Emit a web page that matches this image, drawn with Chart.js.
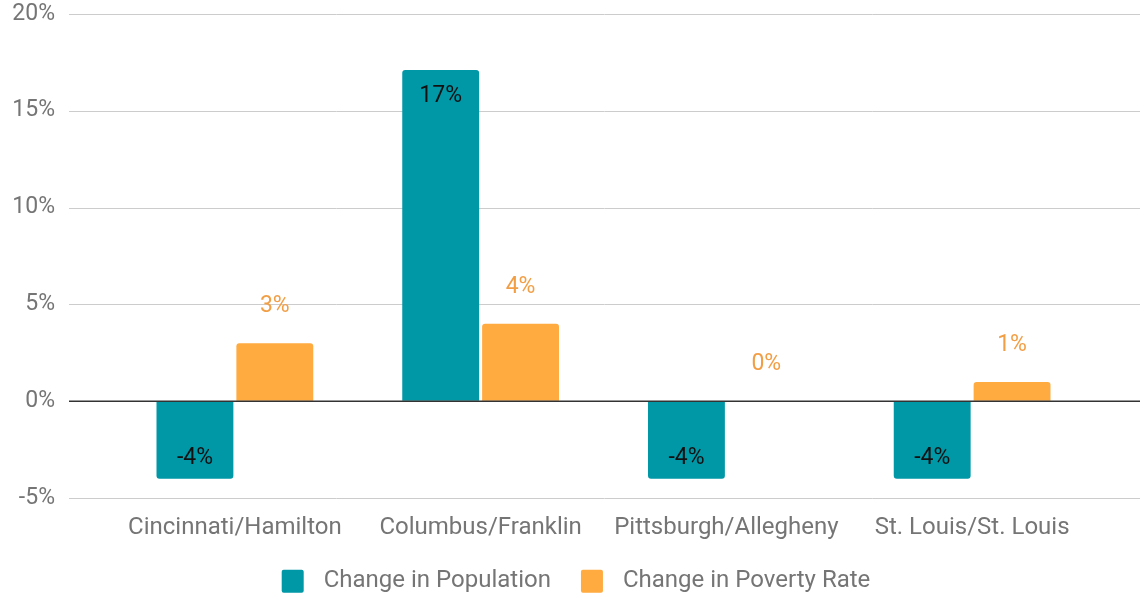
<!DOCTYPE html>
<html>
<head>
<meta charset="utf-8">
<script src="https://cdn.jsdelivr.net/npm/chart.js@4.4.1/dist/chart.umd.min.js"></script>
<style>
  html, body { margin: 0; padding: 0; background: #ffffff; }
  #wrap { width: 1145px; height: 597px; position: relative; }
</style>
</head>
<body>
<div id="wrap"><canvas id="c"></canvas></div>
<script>
const categories = ["Cincinnati/Hamilton", "Columbus/Franklin", "Pittsburgh/Allegheny", "St. Louis/St. Louis"];
const populationChange = [-4, 17.1, -4, -4];
const povertyChange = [3, 4, 0, 1];
const seriesNames = ["Change in Population", "Change in Poverty Rate"];
const yTicks = [-5, 0, 5, 10, 15, 20];

const TEAL = "#0097A7";
const ORANGE = "#FFAB40";
const GRAY = "#757575";
const FONT = "Roboto, 'Noto Sans', sans-serif";

const gridPlugin = {
  id: "gridExt",
  beforeDatasetsDraw(chart) {
    const ctx = chart.ctx, y = chart.scales.y;
    ctx.save();
    yTicks.forEach(v => {
      const py = Math.round(y.getPixelForValue(v)) + 0.5;
      ctx.beginPath();
      ctx.moveTo(69, py);
      ctx.lineTo(1140, py);
      ctx.lineWidth = 1;
      ctx.strokeStyle = "#cccccc";
      ctx.stroke();
    });
    ctx.restore();
  },
  afterDatasetsDraw(chart) {
    const ctx = chart.ctx, y = chart.scales.y;
    const py = y.getPixelForValue(0);
    ctx.save();
    ctx.beginPath();
    ctx.moveTo(69, py);
    ctx.lineTo(1140, py);
    ctx.lineWidth = 1.6;
    ctx.strokeStyle = "#333333";
    ctx.stroke();
    ctx.restore();
  }
};

const labelPlugin = {
  id: "valueLabels",
  afterDatasetsDraw(chart) {
    const ctx = chart.ctx;
    ctx.save();
    ctx.font = "23px " + FONT;
    ctx.textAlign = "center";
    ctx.textBaseline = "middle";
    chart.data.datasets.forEach((ds, di) => {
      const meta = chart.getDatasetMeta(di);
      meta.data.forEach((bar, i) => {
        const v = ds.data[i];
        const txt = Math.round(v) + "%";
        let ty;
        if (di === 0) {
          ctx.fillStyle = "#111111";
          ty = v >= 0 ? bar.y + 26 : bar.y - 21;
        } else {
          ctx.fillStyle = "#F29E45";
          ty = bar.y - 37;
        }
        ctx.fillText(txt, bar.x, ty);
      });
    });
    ctx.restore();
  }
};

const legendPlugin = {
  id: "customLegend",
  afterDraw(chart) {
    const ctx = chart.ctx;
    const ds = chart.data.datasets;
    ctx.save();
    ctx.font = "24px " + FONT;
    ctx.textBaseline = "middle";
    ctx.textAlign = "left";
    const boxW = 22, boxH = 23, gap = 20, itemGap = 30;
    const widths = ds.map(d => boxW + gap + ctx.measureText(d.label).width);
    const total = widths.reduce((a, b) => a + b, 0) + itemGap * (ds.length - 1);
    let x = 576 - total / 2;
    const cy = chart.chartArea.bottom + 83;
    ds.forEach((d, i) => {
      ctx.fillStyle = d.backgroundColor;
      ctx.beginPath();
      ctx.roundRect(x, cy - boxH / 2, boxW, boxH, 2);
      ctx.fill();
      ctx.fillStyle = GRAY;
      ctx.fillText(d.label, x + boxW + gap, cy);
      x += widths[i] + itemGap;
    });
    ctx.restore();
  }
};

new Chart(document.getElementById("c"), {
  type: "bar",
  data: {
    labels: categories,
    datasets: [
      { label: seriesNames[0], data: populationChange, backgroundColor: TEAL, borderRadius: 3, borderSkipped: "start" },
      { label: seriesNames[1], data: povertyChange, backgroundColor: ORANGE, borderRadius: 3, borderSkipped: "start" }
    ]
  },
  options: {
    responsive: true,
    maintainAspectRatio: false,
    animation: false,
    layout: { padding: { top: 6, right: 50, left: 0, bottom: 48 } },
    datasets: { bar: { categoryPercentage: 0.65, barPercentage: 0.9625 } },
    scales: {
      x: {
        grid: { display: false },
        border: { display: false },
        ticks: { color: GRAY, font: { family: FONT, size: 24 }, padding: 7, maxRotation: 0, autoSkip: false }
      },
      y: {
        min: -5, max: 20,
        grid: { display: true, drawOnChartArea: false, drawTicks: true, tickLength: 57, color: "rgba(0,0,0,0)" },
        border: { display: false },
        afterBuildTicks(scale) { scale.ticks = yTicks.map(v => ({ value: v })); },
        afterFit(scale) { scale.width = 112; },
        ticks: { color: GRAY, font: { family: FONT, size: 23 }, padding: 0, callback: v => v + "%" }
      }
    },
    plugins: {
      legend: { display: false },
      tooltip: { enabled: false }
    }
  },
  plugins: [gridPlugin, labelPlugin, legendPlugin]
});
</script>
</body>
</html>
